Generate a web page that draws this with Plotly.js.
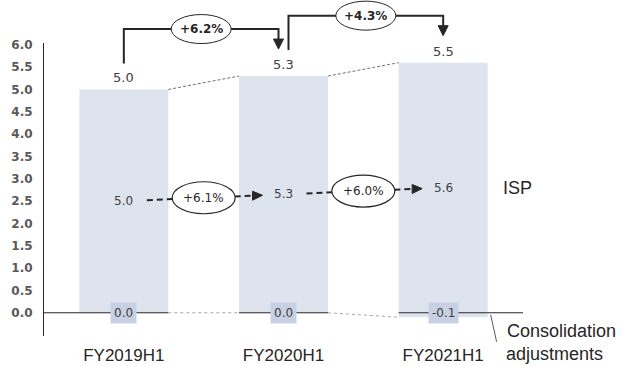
<!DOCTYPE html>
<html>
<head>
<meta charset="utf-8">
<script src="https://cdn.plot.ly/plotly-3.0.1.min.js"></script>
<style>html,body{margin:0;padding:0;background:#fff;}#chart{width:623px;height:366px;}</style>
</head>
<body>
<div id="chart"></div>
<script>
// ---- data ----
const categories = ['FY2019H1', 'FY2020H1', 'FY2021H1'];
const ispValues = [5.0, 5.3, 5.6];
const consolValues = [0.0, 0.0, -0.1];
const totalGrowth = ['+6.2%', '+4.3%'];
const ispGrowth = ['+6.1%', '+6.0%'];
const yTicks = [0, 0.5, 1, 1.5, 2, 2.5, 3, 3.5, 4, 4.5, 5, 5.5, 6];
const seriesLabel = 'ISP';
const consolLabel = ['Consolidation', 'adjustments'];

// ---- layout constants ----
const W = 623, H = 366;
const M = {l: 44, r: 100, t: 43, b: 30};
const plotW = W - M.l - M.r, plotH = H - M.t - M.b;
const xRange = [-0.5, 2.5], yRange = [-0.52, 6.04];
const bw = 0.557;
const n = categories.length;
const xd = (x, dpx) => x + (dpx || 0) * (xRange[1] - xRange[0]) / plotW;
const yp = (v, dpx) => (v - yRange[0]) / (yRange[1] - yRange[0]) + (dpx || 0) / plotH;

const totals = ispValues.map((v, i) => Math.round((v + consolValues[i]) * 10) / 10);
const barColor = '#dee4ee';
const labColor = '#c7d1e3';
const dark = '#262626';
const txt = '#404040';
const numFont = 'DejaVu Sans, Verdana, sans-serif';
const wordFont = 'Liberation Sans, Arial, sans-serif';

const traces = [
  {type: 'bar', x: categories, y: ispValues, width: bw, marker: {color: barColor}, hoverinfo: 'skip', name: 'ISP'},
  {type: 'bar', x: categories, y: consolValues, width: bw, marker: {color: barColor}, hoverinfo: 'skip', name: 'Consolidation'}
];

const shapes = [];
const annotations = [];

// zero baseline segments (solid within bars) and dotted connectors between bars
for (let i = 0; i < n; i++) {
  shapes.push({type: 'line', xref: 'x', yref: 'y', x0: i === 0 ? xRange[0] : i - bw / 2,
    x1: i === n - 1 ? xRange[1] : i + bw / 2, y0: 0, y1: 0, line: {color: dark, width: 1}, layer: 'above'});
}
for (let i = 0; i < n - 1; i++) {
  const topA = ispValues[i] + Math.max(0, consolValues[i]);
  const topB = ispValues[i + 1] + Math.max(0, consolValues[i + 1]);
  shapes.push({type: 'line', xref: 'x', yref: 'y', x0: i + bw / 2, x1: i + 1 - bw / 2, y0: topA, y1: topB,
    line: {color: '#6f6f6f', width: 1, dash: '3px,2px'}, layer: 'above'});
  const botA = Math.min(0, consolValues[i]);
  const botB = Math.min(0, consolValues[i + 1]);
  shapes.push({type: 'line', xref: 'x', yref: 'y', x0: i + bw / 2, x1: i + 1 - bw / 2, y0: botA, y1: botB,
    line: {color: '#a6a6a6', width: 1, dash: 'dot'}, layer: 'above'});
}

// top brackets with total growth
for (let i = 0; i < n - 1; i++) {
  const sx = xd(i, i > 0 ? 5 : 0);
  const ex = xd(i + 1, i + 1 < n - 1 ? -5 : 0);
  const sy = yp(ispValues[i], 26);
  const ty = yp(ispValues[i + 1], 27);
  const hy = Math.max(sy, ty) + 20 / plotH;
  const baseY = ty + 10 / plotH;
  shapes.push({type: 'path', xref: 'x', yref: 'paper', layer: 'above',
    path: `M${sx},${sy} L${sx},${hy} L${ex},${hy} L${ex},${baseY}`,
    line: {color: dark, width: 2}});
  shapes.push({type: 'path', xref: 'x', yref: 'paper', layer: 'above',
    path: `M${xd(i + 1, (i + 1 < n - 1 ? -5 : 0) - 5)},${baseY} L${xd(i + 1, (i + 1 < n - 1 ? -5 : 0) + 5)},${baseY} L${ex},${ty} Z`,
    fillcolor: dark, line: {color: dark, width: 1}});
  const mx = (sx + ex) / 2;
  shapes.push({type: 'circle', xref: 'x', yref: 'paper', layer: 'above',
    x0: xd(mx, -30), x1: xd(mx, 30), y0: hy - 14.5 / plotH, y1: hy + 14.5 / plotH,
    fillcolor: '#ffffff', line: {color: dark, width: 1}});
  annotations.push({xref: 'x', yref: 'paper', x: mx, y: hy, xanchor: 'center', yanchor: 'middle',
    text: totalGrowth[i], showarrow: false,
    font: {family: numFont, size: 12, color: dark, weight: 'bold'}});
}

// middle dashed trend line with ISP growth
const midY = ispValues.map(v => v / 2);
const interp = (i, x) => midY[i] + (midY[i + 1] - midY[i]) * (x - i);
for (let i = 0; i < n - 1; i++) {
  const mx = i + 0.5;
  const my = interp(i, mx);
  const segs = [[xd(i, 23), xd(mx, -31)], [xd(mx, 31), xd(i + 1, -30)]];
  segs.forEach(s => shapes.push({type: 'line', xref: 'x', yref: 'y', layer: 'above',
    x0: s[0], x1: s[1], y0: interp(i, s[0]), y1: interp(i, s[1]),
    line: {color: dark, width: 2, dash: '6px,4px'}}));
  const tipX = xd(i + 1, -21), baseX = xd(i + 1, -31);
  const ty = interp(i, tipX), by = interp(i, baseX);
  const half = 4.5 * (yRange[1] - yRange[0]) / plotH;
  shapes.push({type: 'path', xref: 'x', yref: 'y', layer: 'above',
    path: `M${baseX},${by - half} L${baseX},${by + half} L${tipX},${ty} Z`,
    fillcolor: dark, line: {color: dark, width: 1}});
  shapes.push({type: 'circle', xref: 'x', yref: 'y', layer: 'above',
    x0: xd(mx, -31.5), x1: xd(mx, 31.5),
    y0: my - 16 * (yRange[1] - yRange[0]) / plotH, y1: my + 16 * (yRange[1] - yRange[0]) / plotH,
    fillcolor: '#ffffff', line: {color: dark, width: 1.2}});
  annotations.push({xref: 'x', yref: 'y', x: mx, y: my, xanchor: 'center', yanchor: 'middle',
    text: ispGrowth[i], showarrow: false,
    font: {family: numFont, size: 12, color: dark}});
}

// value labels
for (let i = 0; i < n; i++) {
  annotations.push({xref: 'x', yref: 'y', x: i, y: ispValues[i] + Math.max(0, consolValues[i]),
    yanchor: 'bottom', yshift: 2, text: totals[i].toFixed(1), showarrow: false,
    font: {family: numFont, size: 13, color: txt}});
  annotations.push({xref: 'x', yref: 'y', x: i, y: midY[i], yanchor: 'middle',
    text: ispValues[i].toFixed(1), showarrow: false,
    font: {family: numFont, size: 12, color: txt}});
  annotations.push({xref: 'x', yref: 'y', x: i, y: 0, yanchor: 'middle',
    text: consolValues[i].toFixed(1), showarrow: false,
    bgcolor: labColor, borderpad: 3,
    font: {family: numFont, size: 12, color: txt}});
}

// series labels
annotations.push({xref: 'x', yref: 'y', x: xRange[1], xanchor: 'left', xshift: -22, y: midY[n - 1],
  yanchor: 'middle', text: seriesLabel, showarrow: false, font: {family: wordFont, size: 18, color: dark}});
annotations.push({xref: 'x', yref: 'y', x: xRange[1], xanchor: 'left', xshift: -18, y: 0, yshift: -18,
  yanchor: 'middle', text: consolLabel[0], showarrow: false, font: {family: wordFont, size: 18, color: dark}});
annotations.push({xref: 'x', yref: 'y', x: xRange[1], xanchor: 'left', xshift: -19, y: 0, yshift: -41,
  yanchor: 'middle', text: consolLabel[1], showarrow: false, font: {family: wordFont, size: 18, color: dark}});
// leader line for consolidation label
shapes.push({type: 'line', xref: 'x', yref: 'paper', layer: 'above',
  x0: xd(n - 1 + bw / 2, 3), x1: xd(n - 1 + bw / 2, 9), y0: yp(0, -2), y1: yp(0, -29),
  line: {color: '#595959', width: 1}});

const layout = {
  width: W, height: H,
  margin: M,
  paper_bgcolor: '#ffffff', plot_bgcolor: '#ffffff',
  showlegend: false,
  barmode: 'relative',
  xaxis: {range: xRange, type: 'category', showgrid: false, zeroline: false, showline: false,
    ticks: '', tickfont: {family: wordFont, size: 17, color: dark}, ticklabelstandoff: 7, fixedrange: true},
  yaxis: {range: yRange, tickvals: yTicks, ticktext: yTicks.map(v => v.toFixed(1)),
    showgrid: false, zeroline: false, showline: true, linecolor: dark, linewidth: 1, ticks: '',
    ticklabelstandoff: 8, tickfont: {family: numFont, size: 12, color: '#595959', weight: 'bold'}, fixedrange: true},
  shapes: shapes,
  annotations: annotations
};

Plotly.newPlot('chart', traces, layout, {staticPlot: true, displayModeBar: false});
</script>
</body>
</html>
